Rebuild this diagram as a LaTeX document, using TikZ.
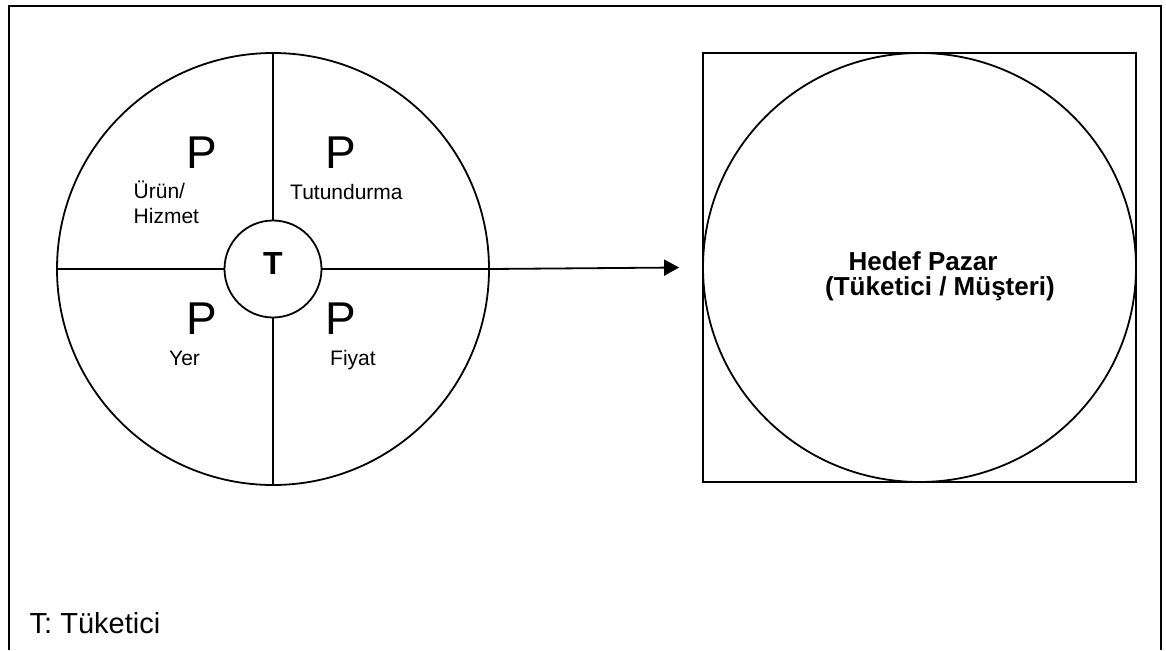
\documentclass[tikz,border=0pt]{standalone}
\usepackage{fontspec}
\setmainfont{Liberation Sans}
\usetikzlibrary{arrows.meta,shapes.geometric}
\tikzset{
  every node/.style={inner sep=0pt},
  thin line/.style={line width=1.8pt, black},
  bigp/.style={font=\fontsize{46}{46}\selectfont, anchor=base west},
  plabel/.style={font=\fontsize{21}{25}\selectfont, anchor=base west},
  hedeftext/.style={font=\bfseries\fontsize{26}{26}\selectfont, anchor=base},
  mixarrow/.style={-{Triangle[length=15pt,width=16pt]}, thin line},
}

\begin{document}
\begin{tikzpicture}[x=1pt,y=-1pt]
    \useasboundingbox (0,0) rectangle (1166,650);
    % outer frame, open at the bottom
    \draw[line width=2.2pt] (9,650) -- (9,6) -- (1161,6) -- (1161,650);
    % marketing mix circle
    \node[circle, draw, thin line, minimum size=432pt] (mix) at (273,269) {};
    \node[circle, draw, thin line, minimum size=97pt] (tuk) at (273,269) {};
    \node[font=\bfseries\fontsize{32}{32}\selectfont, anchor=base] (tlabel) at (273,274) {T};
    \draw[thin line] (mix.north) -- (tuk.north);
    \draw[thin line] (tuk.south) -- (mix.south);
    \draw[thin line] (mix.west) -- (tuk.west);
    \draw[thin line] (tuk.east) -- (mix.east);
    % the four P
    \node[bigp] (p1) at (186,168) {P};
    \node[bigp] (p2) at (325,168) {P};
    \node[bigp] (p3) at (186,334) {P};
    \node[bigp] (p4) at (325,334) {P};
    \node[plabel] (urun) at (133.5,198) {Ürün/};
    \node[plabel] (hizmet) at (133.5,223) {Hizmet};
    \node[plabel] (tutun) at (290,199) {Tutundurma};
    \node[plabel] (yer) at (169,365) {Yer};
    \node[plabel] (fiyat) at (330,365) {Fiyat};
    % target market
    \node[rectangle, draw, thin line, minimum width=433pt, minimum height=429pt] (hedef) at (919.5,267.5) {};
    \node[ellipse, draw, thin line, minimum width=433pt, minimum height=429pt] (pazar) at (919.5,267.5) {};
    \node[hedeftext] (pazar1) at (923,270) {Hedef Pazar};
    \node[hedeftext] (pazar2) at (940,295) {(Tüketici / Müşteri)};
    \coordinate (tip) at ([xshift=-23pt]pazar.west);
    \draw[mixarrow] (mix.east) -- (tip);
    % legend
    \node[font=\fontsize{29}{29}\selectfont, anchor=base west] (legend) at (29.5,633) {T: Tüketici};
\end{tikzpicture}
\end{document}
